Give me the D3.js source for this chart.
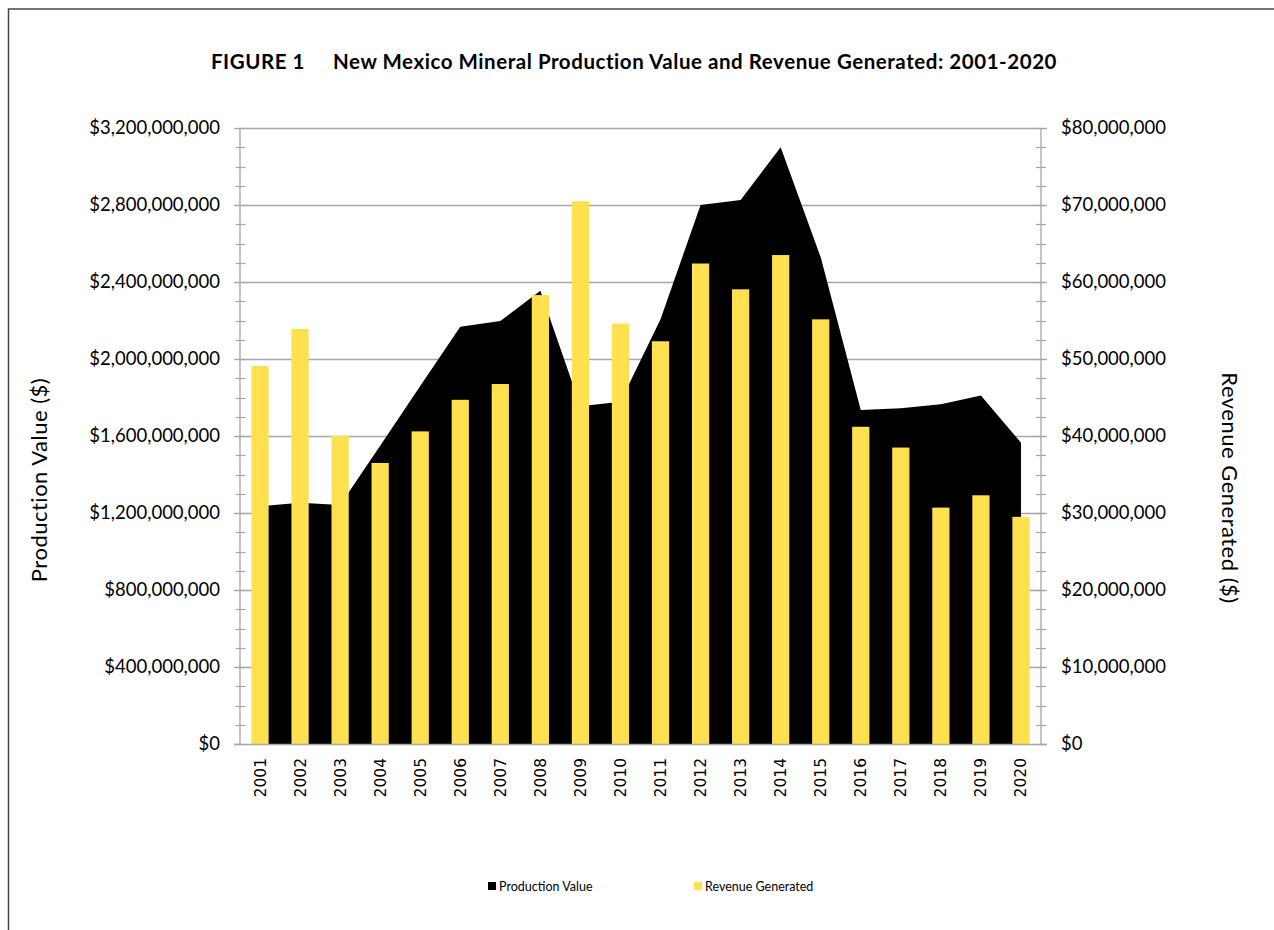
<!DOCTYPE html>
<html>
<head>
<meta charset="utf-8">
<script src="https://cdn.jsdelivr.net/npm/d3@7"></script>
<style>
  html, body { margin: 0; padding: 0; background: #fff; }
  svg { display: block; }
</style>
</head>
<body>
<svg id="chart" width="1274" height="930"></svg>
<script>
// ---- data ----
const years = ["2001","2002","2003","2004","2005","2006","2007","2008","2009","2010",
               "2011","2012","2013","2014","2015","2016","2017","2018","2019","2020"];
const productionValue = [1235e6, 1253e6, 1242e6, 1550e6, 1860e6, 2168e6, 2197e6, 2355e6, 1754e6, 1778e6,
                         2206e6, 2800e6, 2826e6, 3100e6, 2528e6, 1735e6, 1744e6, 1765e6, 1811e6, 1565e6];
const revenueGenerated = [49.1e6, 53.9e6, 40.0e6, 36.5e6, 40.6e6, 44.7e6, 46.75e6, 58.3e6, 70.5e6, 54.6e6,
                          52.3e6, 62.4e6, 59.05e6, 63.5e6, 55.15e6, 41.2e6, 38.5e6, 30.7e6, 32.3e6, 29.5e6];
const leftTicks = [0, 400e6, 800e6, 1200e6, 1600e6, 2000e6, 2400e6, 2800e6, 3200e6];
const rightTicks = [0, 10e6, 20e6, 30e6, 40e6, 50e6, 60e6, 70e6, 80e6];
const titleLead = "FIGURE 1";
const titleText = "New Mexico Mineral Production Value and Revenue Generated: 2001-2020";
const leftTitle = "Production Value ($)";
const rightTitle = "Revenue Generated ($)";
const seriesNames = ["Production Value", "Revenue Generated"];
const colors = { area: "#000000", bar: "#FFE04F", grid: "#A6A6A6" };

// ---- layout ----
const svg = d3.select("#chart");
const X0 = 240, X1 = 1041, Y0 = 744, Y1 = 128;
const font = "Lato, 'Open Sans', sans-serif";

// frame
svg.append("path").attr("d", "M8.5,930 L8.5,9 L1274,9")
  .attr("fill", "none").attr("stroke", "#444").attr("stroke-width", 1.5);

const x = d3.scaleBand().domain(years).range([X0, X1]).paddingInner(0).paddingOuter(0);
const yL = d3.scaleLinear().domain([0, 3200e6]).range([Y0, Y1]);
const yR = d3.scaleLinear().domain([0, 80e6]).range([Y0, Y1]);
const cx = d => x(d) + x.bandwidth() / 2;

// gridlines
svg.append("g").selectAll("line").data(leftTicks.slice(1)).join("line")
  .attr("x1", X0).attr("x2", X1)
  .attr("y1", d => Math.round(yL(d)) + 0.5).attr("y2", d => Math.round(yL(d)) + 0.5)
  .attr("stroke", colors.grid).attr("stroke-width", 1.3);

// area
const area = d3.area()
  .x((d, i) => cx(years[i]))
  .y0(Y0)
  .y1(d => yL(d));
svg.append("path").datum(productionValue).attr("d", area).attr("fill", colors.area);

// bars
const barW = x.bandwidth() * 0.43;
svg.append("g").selectAll("rect").data(revenueGenerated).join("rect")
  .attr("x", (d, i) => cx(years[i]) - barW / 2)
  .attr("width", barW)
  .attr("y", d => yR(d))
  .attr("height", d => Y0 - yR(d))
  .attr("fill", colors.bar);

// axes
const minorL = d3.range(0, 3200e6 + 1, 100e6);
const minorR = d3.range(0, 80e6 + 1, 2.5e6);

const axL = svg.append("g").attr("transform", `translate(${X0},0)`)
  .call(d3.axisLeft(yL).tickValues(leftTicks).tickSize(6).tickPadding(14)
    .tickFormat(d => d === 0 ? "$0" : "$" + d3.format(",")(d)));
axL.select(".domain").attr("stroke", colors.grid).attr("stroke-width", 1.3).attr("d", `M0,${Y0}V${Y1}`);
axL.selectAll(".tick line").attr("stroke", colors.grid).attr("stroke-width", 1.3);
axL.selectAll(".tick text").attr("font-family", font).attr("font-size", 18.5).attr("fill", "#000");
svg.append("g").selectAll("line").data(minorL).join("line")
  .attr("x1", X0 - 4.5).attr("x2", X0 + 5.5)
  .attr("y1", d => Math.round(yL(d)) + 0.5).attr("y2", d => Math.round(yL(d)) + 0.5)
  .attr("stroke", colors.grid).attr("stroke-width", 1.2);

const axR = svg.append("g").attr("transform", `translate(${X1},0)`)
  .call(d3.axisRight(yR).tickValues(rightTicks).tickSize(6).tickPadding(14)
    .tickFormat(d => d === 0 ? "$0" : "$" + d3.format(",")(d)));
axR.select(".domain").attr("stroke", colors.grid).attr("stroke-width", 1.3).attr("d", `M0,${Y0}V${Y1}`);
axR.selectAll(".tick line").attr("stroke", colors.grid).attr("stroke-width", 1.3);
axR.selectAll(".tick text").attr("font-family", font).attr("font-size", 18.5).attr("fill", "#000");
svg.append("g").selectAll("line").data(minorR).join("line")
  .attr("x1", X1 - 5).attr("x2", X1 + 5)
  .attr("y1", d => Math.round(yR(d)) + 0.5).attr("y2", d => Math.round(yR(d)) + 0.5)
  .attr("stroke", colors.grid).attr("stroke-width", 1.2);

// x axis baseline
svg.append("line").attr("x1", X0 - 6).attr("x2", X1 + 6)
  .attr("y1", Y0 + 0.5).attr("y2", Y0 + 0.5)
  .attr("stroke", colors.grid).attr("stroke-width", 1.5);

// x labels
svg.append("g").selectAll("text").data(years).join("text")
  .attr("transform", d => `translate(${cx(d) + 5.5},${Y0 + 14}) rotate(-90)`)
  .attr("text-anchor", "end")
  .attr("font-family", "'DejaVu Sans', sans-serif").attr("font-size", 15.5)
  .attr("fill", "#000")
  .text(d => d);

// title
const t = svg.append("text").attr("x", 634).attr("y", 69).attr("text-anchor", "middle")
  .attr("font-family", font).attr("font-weight", "bold").attr("font-size", 20.5)
  .attr("letter-spacing", 0.55).attr("fill", "#000");
t.append("tspan").text(titleLead);
t.append("tspan").attr("dx", 28).text(titleText);

// axis titles
svg.append("text").attr("transform", "translate(47,480) rotate(-90)")
  .attr("text-anchor", "middle").attr("font-family", font).attr("font-size", 22)
  .attr("letter-spacing", 0.5).attr("fill", "#000")
  .text(leftTitle);
svg.append("text").attr("transform", "translate(1222,488) rotate(90)")
  .attr("text-anchor", "middle").attr("font-family", font).attr("font-size", 22)
  .attr("letter-spacing", 0.5).attr("fill", "#000")
  .text(rightTitle);

// legend
const legendX = [488, 694];
const leg = svg.append("g").selectAll("g").data(seriesNames).join("g")
  .attr("transform", (d, i) => `translate(${legendX[i]},882)`);
leg.append("rect").attr("width", 8).attr("height", 8)
  .attr("fill", (d, i) => i === 0 ? colors.area : colors.bar);
leg.append("text").attr("x", 11).attr("y", 8.5)
  .attr("font-family", font).attr("font-size", 12.5).attr("fill", "#000")
  .text(d => d);
</script>
</body>
</html>
